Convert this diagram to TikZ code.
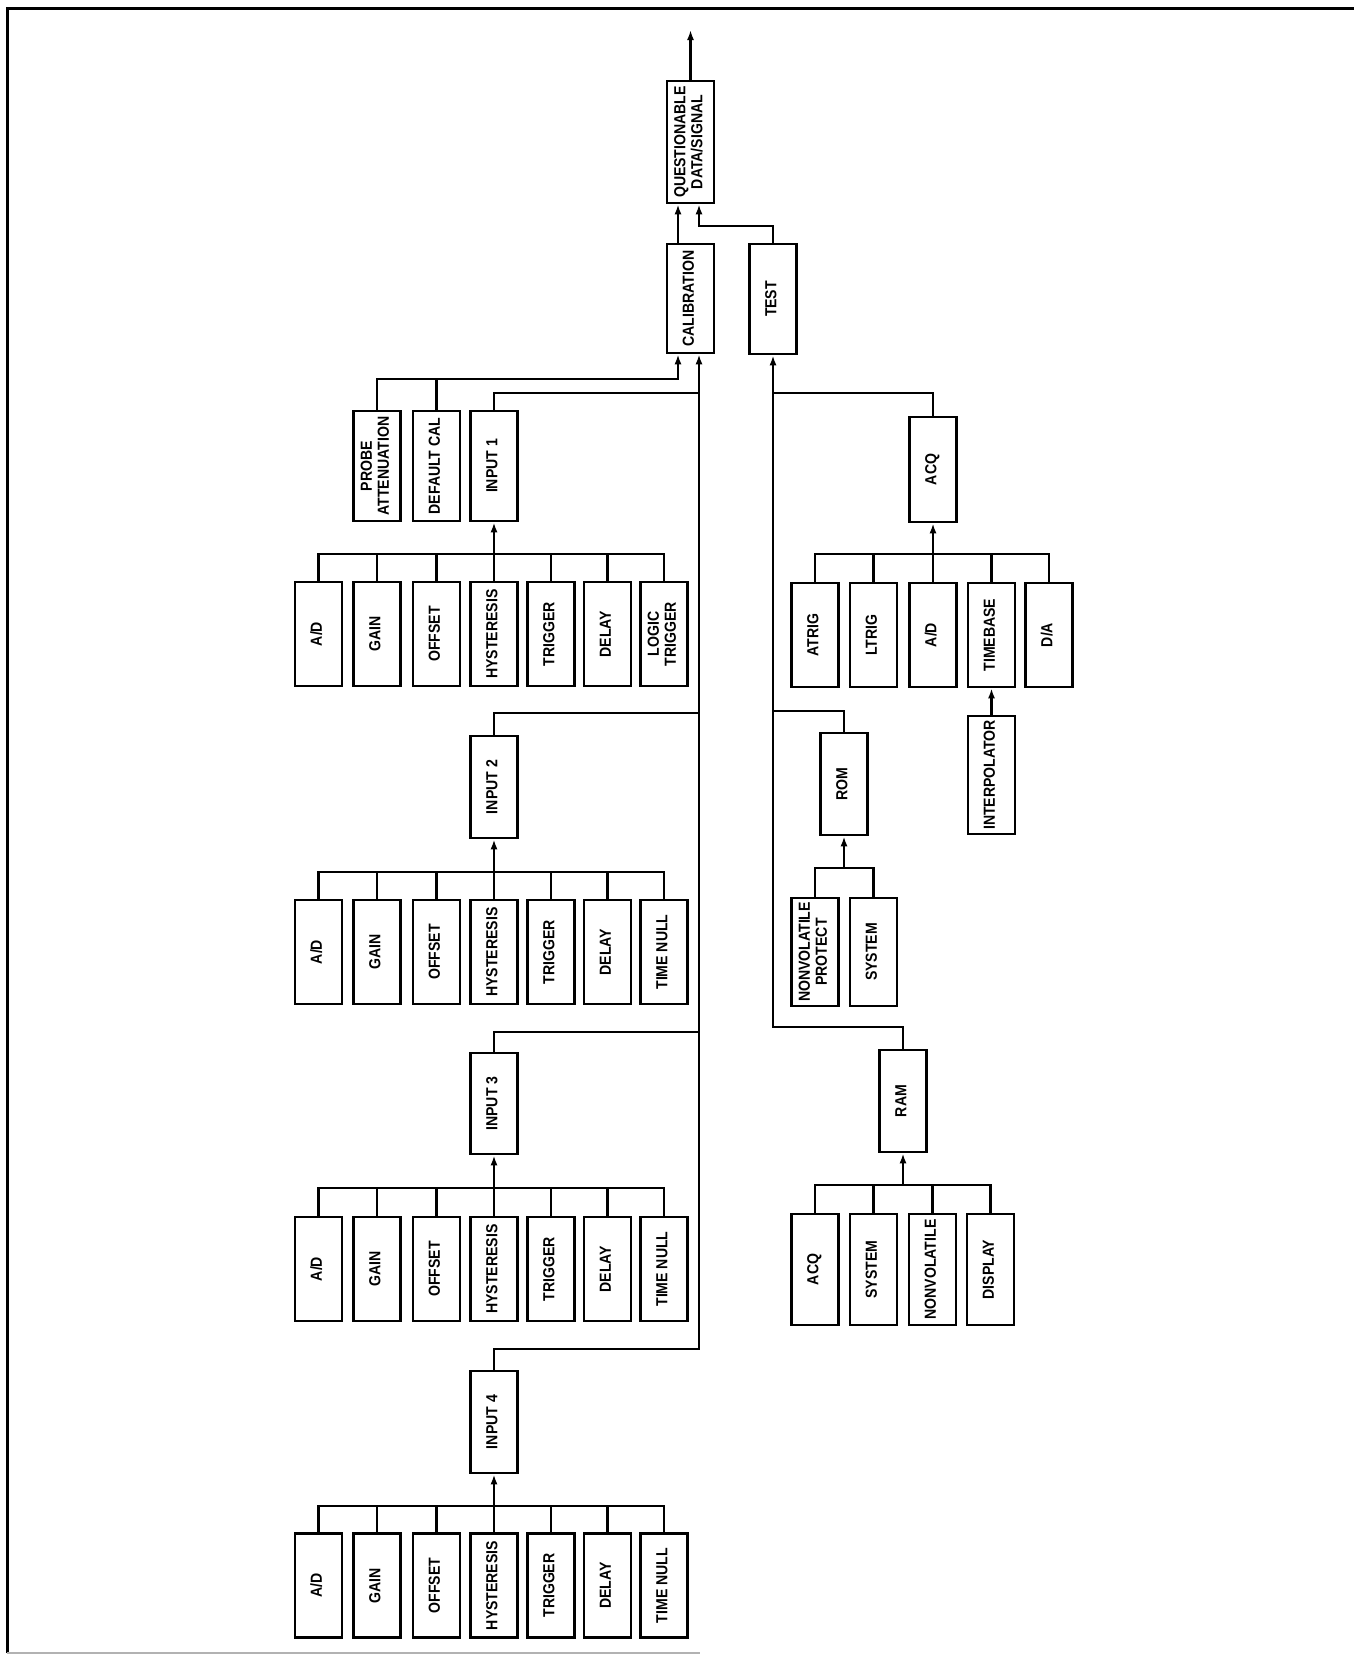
\documentclass[tikz,border=0pt]{standalone}
\usepackage{fontspec}
\setsansfont{Liberation Sans}[FakeStretch=0.88]
\usetikzlibrary{arrows.meta}
\newcommand{\lbl}[1]{\rotatebox{90}{\begin{tabular}{@{}c@{}}#1\end{tabular}}}
\newcommand{\leafrow}[3]{%
  \node[box,minimum height=104pt] (#1a) at (318.5,#2) {\lbl{A/D}};
  \node[box,minimum height=104pt] (#1b) at (377,#2) {\lbl{GAIN}};
  \node[box,minimum height=104pt] (#1c) at (436.5,#2) {\lbl{OFFSET}};
  \node[box,minimum height=104pt] (#1d) at (494,#2) {\lbl{HYSTERESIS}};
  \node[box,minimum height=104pt] (#1e) at (551,#2) {\lbl{TRIGGER}};
  \node[box,minimum height=104pt] (#1f) at (607.5,#2) {\lbl{DELAY}};
  \node[box,minimum height=104pt] (#1g) at (664,#2) {\lbl{#3}};
}
\newcommand{\rowwires}[3]{% row name, input node name, bus y
  \coordinate (#1bus) at (494,#3);
  \draw[wire] (#1a.north) |- (#1bus) -| (#1g.north);
  \foreach \n in {b,c,e,f} \draw[wire] (#1\n.north) -- (#1\n.north |- #1bus);
  \draw[arr] (#1d.north) -- (#2.south);
}
\begin{document}
\begin{tikzpicture}[x=1pt,y=-1pt,
  box/.style={draw,line width=2.6pt,minimum width=47pt,inner sep=0pt,
    font=\sffamily\bfseries\fontsize{16}{17}\selectfont},
  wire/.style={line width=2.4pt},
  arr/.style={wire,-{Latex[length=10pt,width=7pt]}}]
\useasboundingbox (0,0) rectangle (1354,1655);
% frame
\draw[line width=3pt] (7,1653) -- (7,8) -- (1354,8);
\draw[gray!60,line width=1.2pt] (7,1653) -- (700,1653);

% top level
\node[box,minimum height=122pt] (qds) at (690.5,142) {\lbl{QUESTIONABLE\\DATA/SIGNAL}};
\node[box,minimum height=109pt] (cal) at (690.5,298.5) {\lbl{CALIBRATION}};
\node[box,minimum height=110pt] (test) at (773,299) {\lbl{TEST}};

% calibration group
\node[box,minimum height=110pt] (probe) at (377,466) {\lbl{PROBE\\ATTENUATION}};
\node[box,minimum height=110pt] (defcal) at (436.5,466) {\lbl{DEFAULT CAL}};
\node[box,minimum height=110pt] (in1) at (494,466) {\lbl{INPUT 1}};
\node[box,minimum height=102pt] (in2) at (494,787) {\lbl{INPUT 2}};
\node[box,minimum height=101pt] (in3) at (494,1103.5) {\lbl{INPUT 3}};
\node[box,minimum height=102pt] (in4) at (494,1422) {\lbl{INPUT 4}};

\leafrow{ra}{634}{LOGIC\\TRIGGER}
\leafrow{rb}{952}{TIME NULL}
\leafrow{rc}{1269}{TIME NULL}
\leafrow{rd}{1585.5}{TIME NULL}

\rowwires{ra}{in1}{554}
\rowwires{rb}{in2}{872}
\rowwires{rc}{in3}{1188}
\rowwires{rd}{in4}{1506}

% junctions on calibration bus
\coordinate (calinL) at ([xshift=-12.5pt]cal.south);
\coordinate (calinR) at ([xshift=8.5pt]cal.south);
\coordinate (j1) at (699,393);
\coordinate (j2) at (699,713);
\coordinate (j3) at (699,1032);
\coordinate (j4) at (699,1349);
\coordinate (jp) at (678,379);
\draw[arr] (in4.north) |- (j4) -- (calinR);
\draw[wire] (in1.north) |- (j1);
\draw[wire] (in2.north) |- (j2);
\draw[wire] (in3.north) |- (j3);
\draw[arr] (probe.north) |- (jp) -- (calinL);
\draw[wire] (defcal.north) -- (defcal.north |- jp);

% top connections
\draw[arr] ([xshift=-12.5pt]cal.north) -- ([xshift=-12.5pt]qds.south);
\coordinate (jt) at (699,226);
\draw[arr] (test.north) |- (jt) -- ([xshift=8.5pt]qds.south);
\coordinate (out) at (690.5,30);
\draw[arr] (qds.north) -- (out);

% test group
\node[box,minimum height=105pt] (acq) at (933,469.5) {\lbl{ACQ}};
\node[box,minimum height=104pt] (aa) at (815,635) {\lbl{ATRIG}};
\node[box,minimum height=104pt] (ab) at (873.5,635) {\lbl{LTRIG}};
\node[box,minimum height=104pt] (ac) at (933,635) {\lbl{A/D}};
\node[box,minimum height=104pt] (ad) at (991.5,635) {\lbl{TIMEBASE}};
\node[box,minimum height=104pt] (ae) at (1049,635) {\lbl{D/A}};
\node[box,minimum height=118pt] (interp) at (991.5,775) {\lbl{INTERPOLATOR}};

\node[box,minimum height=102pt] (rom) at (844,784) {\lbl{ROM}};
\node[box,minimum height=108pt] (nvp) at (815,952) {\lbl{NONVOLATILE\\PROTECT}};
\node[box,minimum height=108pt] (rsys) at (873.5,952) {\lbl{SYSTEM}};

\node[box,minimum height=102pt] (ram) at (903,1101) {\lbl{RAM}};
\node[box,minimum height=111pt] (ma) at (815,1269.5) {\lbl{ACQ}};
\node[box,minimum height=111pt] (mb) at (873.5,1269.5) {\lbl{SYSTEM}};
\node[box,minimum height=111pt] (mc) at (932.5,1269.5) {\lbl{NONVOLATILE}};
\node[box,minimum height=111pt] (md) at (990.5,1269.5) {\lbl{DISPLAY}};

% test bus
\coordinate (tb) at (773,1027);
\coordinate (ja) at (773,393);
\coordinate (jr) at (773,711);
\draw[arr] (ram.north) |- (tb) -- (test.south);
\draw[wire] (acq.north) |- (ja);
\draw[wire] (rom.north) |- (jr);

% acq children
\coordinate (ba) at (933,554);
\draw[wire] (aa.north) |- (ba) -| (ae.north);
\draw[wire] (ab.north) -- (ab.north |- ba);
\draw[wire] (ad.north) -- (ad.north |- ba);
\draw[arr] (ac.north) -- (acq.south);
\draw[arr] (interp.north) -- (ad.south);

% rom children
\coordinate (br) at (844,868);
\draw[wire] (nvp.north) |- (br) -| (rsys.north);
\draw[arr] (br) -- (rom.south);

% ram children
\coordinate (bm) at (903,1185);
\draw[wire] (ma.north) |- (bm) -| (md.north);
\draw[wire] (mb.north) -- (mb.north |- bm);
\draw[wire] (mc.north) -- (mc.north |- bm);
\draw[arr] (bm) -- (ram.south);
\end{tikzpicture}
\end{document}
